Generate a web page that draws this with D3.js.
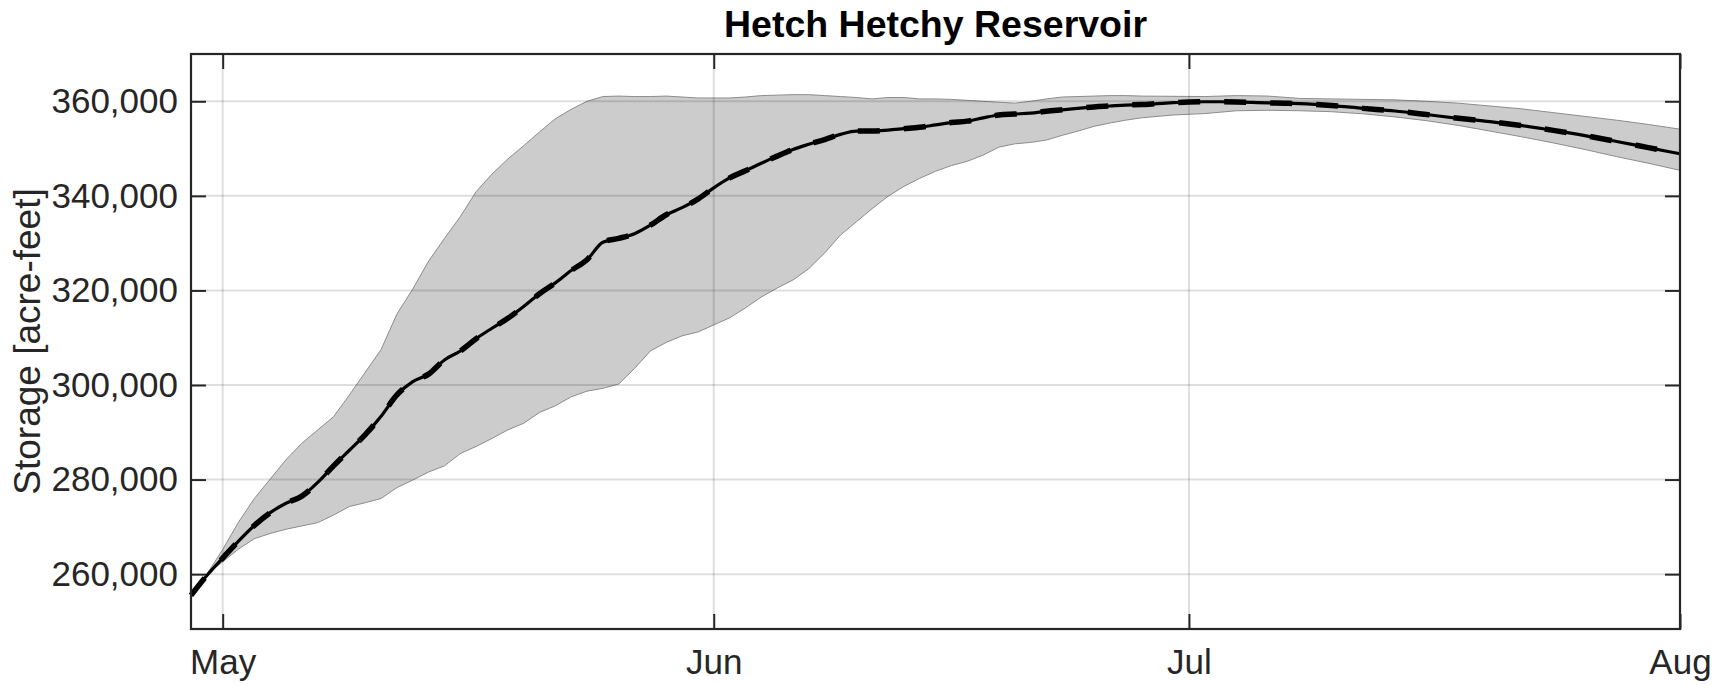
<!DOCTYPE html>
<html>
<head>
<meta charset="utf-8">
<script src="https://cdn.jsdelivr.net/npm/d3@7"></script>
<style>
body { margin: 0; background: #fff; }
svg { display: block; }
text { font-family: "Liberation Sans", Arial, sans-serif; fill: #262626; }
</style>
</head>
<body>
<div id="chart"></div>
<script>
// x axis runs from Apr 29 to Aug 1, values keyed by day offset from startDate
var startDate = new Date(2021, 3, 29);
var endDate = new Date(2021, 7, 1);
var monthTicks = [new Date(2021, 4, 1), new Date(2021, 5, 1), new Date(2021, 6, 1), new Date(2021, 7, 1)];
var yTicks = [260000, 280000, 300000, 320000, 340000, 360000];
var chartTitle = "Hetch Hetchy Reservoir";
var yLabel = "Storage [acre-feet]";

// median storage
var medianDay = [0, 1, 2, 3, 4, 5, 6, 7, 8, 9, 10, 11, 12, 13, 14, 15, 16, 17, 18, 19,
  20, 21, 22, 23, 24, 25, 26, 27, 28, 29, 30, 31, 32, 33, 34, 35, 36, 37, 38, 39,
  40, 41, 42, 43, 44, 45, 46, 47, 48, 49, 50, 51, 52, 53, 54, 55, 56, 57, 58, 59,
  60, 61, 62, 63, 64, 65, 66, 67, 68, 69, 70, 72, 74, 76, 78, 80, 82, 84, 86, 88, 90, 92, 94];
var medianValue = [255500, 259700, 263400, 267000, 270300, 273000, 275000, 276500, 279400, 282900,
  286200, 289500, 293400, 297900, 300700, 302300, 305300, 307200, 309800, 312000,
  314100, 316600, 319300, 321600, 324200, 326500, 330200, 331000, 332000, 333800,
  336000, 337500, 339300, 341700, 343800, 345300, 346900, 348400, 349800, 350900,
  351900, 353000, 353700, 353700, 353900, 354200, 354500, 355000, 355500, 355800,
  356500, 357100, 357300, 357500, 357900, 358200, 358500, 358800, 359000, 359200,
  359300, 359500, 359700, 359850, 359900, 359900, 359850, 359750, 359650, 359600,
  359500, 359100, 358500, 357950, 357200, 356400, 355700, 354850, 353850, 352750,
  351500, 350200, 348900];

// range of the ensemble
var bandDay = [1, 2, 3, 4, 5, 6, 7, 8, 9, 10, 11, 12, 13, 14, 15, 16, 17, 18, 19, 20,
  21, 22, 23, 24, 25, 26, 27, 28, 29, 30, 31, 32, 33, 34, 35, 36, 37, 38, 39, 40,
  41, 42, 43, 44, 45, 46, 47, 48, 49, 50, 51, 52, 53, 54, 55, 56, 57, 58, 59, 60,
  62, 64, 66, 68, 70, 72, 74, 76, 78, 80, 82, 84, 86, 88, 90, 92, 94];
var upperValue = [260000, 265200, 271000, 276000, 280100, 284200, 287700, 290500, 293300, 297900,
  302700, 307500, 315000, 320300, 326200, 331000, 335600, 340900, 344600, 347800,
  350600, 353500, 356300, 358300, 360000, 361000, 361100, 361000, 361000, 361100,
  360900, 360700, 360700, 360700, 360900, 361200, 361300, 361400, 361400, 361200,
  361000, 360800, 360500, 360800, 360800, 360500, 360500, 360400, 360200, 360000,
  359800, 359600, 360000, 360500, 360900, 361000, 361100, 361200, 361200, 361100,
  361050, 361000, 361200, 361100, 360600, 360500, 360400, 360300, 360000, 359600,
  359000, 358400, 357600, 356800, 356000, 355100, 354100];
var lowerValue = [260000, 262600, 265300, 267500, 268600, 269500, 270200, 270900, 272500, 274300,
  275100, 276000, 278300, 279900, 281600, 282900, 285500, 287000, 288700, 290500,
  291900, 294200, 295600, 297500, 298700, 299300, 300200, 303500, 307200, 309000,
  310400, 311200, 312700, 314200, 316300, 318600, 320500, 322200, 324600, 327900,
  331700, 334500, 337300, 339900, 342000, 343700, 345200, 346400, 347300, 348600,
  350300, 351000, 351300, 351800, 352800, 353700, 354700, 355400, 356000, 356500,
  357100, 357400, 358000, 358100, 358000, 357800, 357350, 356700, 355900, 354900,
  353700, 352500, 351200, 349800, 348300, 346900, 345400];

var width = 1727, height = 685;
var margin = {top: 54, right: 47, bottom: 56, left: 191};
var w = width - margin.left - margin.right;
var h = height - margin.top - margin.bottom;

var svg = d3.select("#chart").append("svg").attr("width", width).attr("height", height);
var g = svg.append("g").attr("transform", "translate(" + margin.left + "," + margin.top + ")");

var x = d3.scaleTime().domain([startDate, endDate]).range([0, w]);
var y = d3.scaleLinear().domain([248400, 370000]).range([h, 0]);

function dayDate(d) { return d3.timeDay.offset(startDate, d); }

var band = bandDay.map(function(d, i) { return {date: dayDate(d), hi: upperValue[i], lo: lowerValue[i]}; });
var median = medianDay.map(function(d, i) { return {date: dayDate(d), v: medianValue[i]}; });

//band
g.append("path").datum(band)
  .attr("fill", "#cccccc").attr("stroke", "#8c8c8c").attr("stroke-width", 1)
  .attr("d", d3.area().x(function(d) { return x(d.date); }).y0(function(d) { return y(d.lo); }).y1(function(d) { return y(d.hi); }));

//grid
g.append("g").selectAll("line").data(yTicks).enter().append("line")
  .attr("x1", 0).attr("x2", w).attr("y1", function(d) { return y(d); }).attr("y2", function(d) { return y(d); })
  .attr("stroke", "#000").attr("stroke-opacity", 0.13).attr("stroke-width", 2);
g.append("g").selectAll("line").data(monthTicks).enter().append("line")
  .attr("y1", 0).attr("y2", h).attr("x1", function(d) { return x(d); }).attr("x2", function(d) { return x(d); })
  .attr("stroke", "#000").attr("stroke-opacity", 0.13).attr("stroke-width", 2);

//median line: solid with thick dashes on top
var line = d3.line().x(function(d) { return x(d.date); }).y(function(d) { return y(d.v); }).curve(d3.curveMonotoneX);
g.append("path").datum(median).attr("fill", "none").attr("stroke", "#000").attr("stroke-width", 3.2).attr("d", line);
g.append("path").datum(median).attr("fill", "none").attr("stroke", "#000").attr("stroke-width", 5.5)
  .attr("stroke-dasharray", "22,24").attr("d", line);

//axes
var yAxis = g.append("g").call(d3.axisLeft(y).tickValues(yTicks).tickSize(-15).tickPadding(13).tickFormat(d3.format(",")));
var yAxisR = g.append("g").attr("transform", "translate(" + w + ",0)").call(d3.axisRight(y).tickValues(yTicks).tickSize(-15).tickFormat(""));
var xAxis = g.append("g").attr("transform", "translate(0," + h + ")")
  .call(d3.axisBottom(x).tickValues(monthTicks).tickSize(-15).tickPadding(20).tickFormat(d3.timeFormat("%b")));
var xAxisT = g.append("g").call(d3.axisTop(x).tickValues(monthTicks).tickSize(-15).tickFormat(""));

[yAxis, yAxisR, xAxis, xAxisT].forEach(function(a) {
  a.select(".domain").remove();
  a.selectAll(".tick line").attr("stroke", "#262626").attr("stroke-width", 2);
  a.selectAll(".tick text").attr("font-size", 35).attr("fill", "#262626").style("font-family", "'Liberation Sans', Arial, sans-serif");
});

g.append("rect").attr("width", w).attr("height", h).attr("fill", "none").attr("stroke", "#262626").attr("stroke-width", 2.2);

svg.append("text").attr("x", margin.left + w / 2).attr("y", 37).attr("text-anchor", "middle")
  .attr("font-size", 37.5).attr("font-weight", "bold").style("fill", "#000").text(chartTitle);

svg.append("text").attr("transform", "translate(27," + (margin.top + h / 2) + ") rotate(-90)")
  .attr("text-anchor", "middle").attr("dy", "0.36em").attr("font-size", 37).text(yLabel);
</script>
</body>
</html>
